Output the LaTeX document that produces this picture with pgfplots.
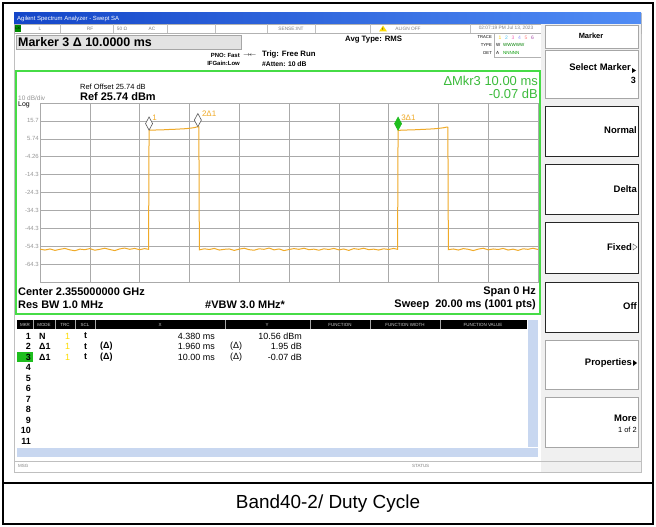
\documentclass[border=0pt]{standalone}
\usepackage{pgfplots}
\pgfplotsset{compat=1.18}
\usepackage{fontspec}
\setmainfont{Liberation Sans}

\definecolor{trc}{RGB}{240,170,40}
\definecolor{grn}{RGB}{70,220,70}
\definecolor{mkgreen}{RGB}{30,190,30}
\definecolor{tb1}{RGB}{20,70,200}
\definecolor{tb2}{RGB}{80,140,245}
\definecolor{gridc}{RGB}{170,170,170}
\definecolor{lbl}{RGB}{150,150,150}
\definecolor{scrl}{RGB}{200,215,240}
\newcommand{\fs}[1]{\fontsize{#1}{#1}\selectfont}

\pgfplotstableread{
t y
0.00 -55.9
0.20 -56.4
0.40 -55.8
0.60 -56.6
0.80 -56.0
1.00 -55.5
1.20 -56.3
1.40 -56.8
1.60 -55.9
1.80 -56.2
2.00 -55.6
2.20 -56.5
2.40 -56.0
2.60 -55.4
2.80 -56.1
3.00 -56.7
3.20 -55.8
3.40 -55.3
3.60 -56.0
3.80 -55.5
4.00 -56.2
4.20 -55.6
4.36 -56.0
4.38 10.56
4.60 10.62
4.80 10.75
5.00 10.80
5.20 10.95
5.40 11.05
5.60 11.20
5.80 11.35
6.00 11.60
6.20 12.00
6.34 12.51
6.38 12.40
6.40 -56.3
6.60 -55.7
6.80 -56.1
7.00 -55.5
7.20 -56.4
7.40 -56.0
7.60 -55.8
7.80 -56.6
8.00 -55.9
8.20 -55.4
8.40 -56.2
8.60 -56.5
8.80 -55.7
9.00 -56.0
9.20 -55.3
9.40 -56.3
9.60 -55.8
9.80 -56.7
10.00 -56.1
10.20 -55.6
10.40 -56.0
10.60 -55.4
10.80 -56.2
11.00 -55.9
11.20 -56.5
11.40 -55.7
11.60 -56.1
11.80 -55.5
12.00 -56.3
12.20 -55.8
12.40 -56.6
12.60 -55.6
12.80 -56.0
13.00 -55.4
13.20 -56.2
13.40 -55.9
13.60 -56.4
13.80 -55.7
14.00 -56.1
14.20 -55.5
14.36 -56.0
14.38 10.49
14.60 10.55
14.80 10.70
15.00 10.75
15.20 10.90
15.40 11.00
15.60 11.15
15.80 11.30
16.00 11.55
16.20 11.90
16.34 12.30
16.38 12.20
16.40 -56.2
16.60 -55.8
16.80 -56.4
17.00 -55.6
17.20 -56.0
17.40 -56.7
17.60 -55.9
17.80 -55.4
18.00 -56.3
18.20 -55.8
18.40 -56.1
18.60 -55.5
18.80 -56.4
19.00 -55.9
19.20 -56.6
19.40 -55.7
19.60 -56.0
19.80 -55.4
20.00 -56.1
}\tracedata

\begin{document}
\begin{tikzpicture}[x=1bp,y=-1bp]
\path[use as bounding box] (0,0) rectangle (656,527);
\fill[white] (0,0) rectangle (656,527);
% ---------- screenshot frame
\draw[gray!50] (14,13) rectangle (641,472);
% title bar
\shade[left color=tb1, right color=tb2] (14,13) rectangle (641,24);
\node[anchor=west, text=white, font=\fs{6}, inner sep=0] at (17,18.5) {Agilent Spectrum Analyzer - Swept SA};
% status row
\draw[gray!60, fill=white] (14,24) rectangle (641,33);
\fill[green!55!black] (15,25) rectangle (21,32);
\node[font=\fs{3.5}, text=black, inner sep=0] at (18,28.5) {LXI};
\foreach \x in {60,113,167,215,267,315,370,470,541} {\draw[gray!50] (\x,24) -- (\x,33);}
\foreach \x/\t in {40/L, 90/RF, 122/{50 Ω}, 152/AC, 291/SENSE:INT, 408/ALIGN OFF, 506/{02:07:19 PM Jul 13, 2023}}
  {\node[font=\fs{4.8}, text=gray, inner sep=0] at (\x,28.5) {\t};}
\fill[yellow!80!orange] (383,25.5) -- (387,31.5) -- (379,31.5) -- cycle;
\node[font=\bfseries\fs{3.5}, inner sep=0] at (383,29.5) {!};
% marker box
\draw[gray!70, fill=gray!22] (16,35) rectangle (241,49);
\node[anchor=west, font=\bfseries\fs{12.5}, inner sep=0] at (18,42) {Marker 3 Δ 10.0000 ms};
\node[anchor=east, font=\bfseries\fs{6}, inner sep=0] at (240,55) {PNO: Fast};
\node[anchor=west, font=\fs{6}, inner sep=0] at (243,55) {$\to\!\leftarrow$};
\node[anchor=east, font=\bfseries\fs{6}, inner sep=0] at (240,63) {IFGain:Low};
\node[anchor=west, font=\bfseries\fs{7.8}, inner sep=0] at (262,55) {Trig: Free Run};
\node[anchor=west, font=\bfseries\fs{6.8}, inner sep=0] at (262,64) {\#Atten: 10 dB};
\node[anchor=west, font=\bfseries\fs{7.8}, inner sep=0] at (345,40) {Avg Type: RMS};
\node[anchor=east, font=\fs{4.2}, inner sep=0] at (492,37) {TRACE};
\node[anchor=east, font=\fs{4.2}, inner sep=0] at (492,45) {TYPE};
\node[anchor=east, font=\fs{4.2}, inner sep=0] at (492,53) {DET};
\draw[gray!60, fill=white] (494,33.5) rectangle (541,57);
\foreach \i/\c in {1/yellow!70!orange,2/cyan!70,3/magenta!60,4/blue!40,5/red!50,6/violet!70}
  {\node[font=\fs{5}, text=\c, inner sep=0] at ({500+6.5*(\i-1)},37.5) {\i};}
\node[anchor=west, font=\fs{4.5}, inner sep=0] at (496,45) {W};
\node[anchor=west, font=\fs{4.5}, text=green!50!black, inner sep=0] at (503,45) {WWWWW};
\node[anchor=west, font=\fs{4.5}, inner sep=0] at (496,53) {A};
\node[anchor=west, font=\fs{4.5}, text=green!60!black, inner sep=0] at (503,53) {NNNNN};
% ---------- right panel
\fill[gray!12] (541,24) rectangle (641,472);
\draw[gray!70, fill=white] (545,25) rectangle (638,48);
\node[font=\bfseries\fs{7.5}, inner sep=0] at (591,36) {Marker};
\foreach \a/\b in {50/98, 340/389, 397/447} {\draw[gray!70, fill=white] (545,\a) rectangle (638,\b);}
\foreach \a/\b in {107/157,165/215,223/273,282/332} {\draw[black!85, line width=1bp, fill=white] (545,\a) rectangle (638,\b);}
\node[anchor=east, font=\bfseries\fs{9.5}, inner sep=0] at (631,67) {Select Marker};
\fill (632,68) -- (636,70.5) -- (632,73) -- cycle;
\node[anchor=east, font=\bfseries\fs{9}, inner sep=0] at (636,80) {3};
\node[anchor=east, font=\bfseries\fs{9.5}, inner sep=0] at (637,130) {Normal};
\node[anchor=east, font=\bfseries\fs{9.5}, inner sep=0] at (637,189) {Delta};
\node[anchor=east, font=\bfseries\fs{9.5}, inner sep=0] at (632,247) {Fixed};
\draw[black!70] (633,244) -- (637,247) -- (633,250) -- cycle;
\node[anchor=east, font=\bfseries\fs{9.5}, inner sep=0] at (637,306) {Off};
\node[anchor=east, font=\bfseries\fs{9.5}, inner sep=0] at (632,363) {Properties};
\fill (633,360) -- (637,363) -- (633,366) -- cycle;
\node[anchor=east, font=\bfseries\fs{9.5}, inner sep=0] at (637,418) {More};
\node[anchor=east, font=\fs{7.5}, inner sep=0] at (637,430) {1 of 2};
% ---------- plot area
\draw[grn, line width=2bp] (15.5,71) rectangle (540,314);
\node[anchor=west, font=\fs{7.5}, inner sep=0] at (80,87) {Ref Offset 25.74 dB};
\node[anchor=west, font=\bfseries\fs{11}, inner sep=0] at (80,97) {Ref 25.74 dBm};
\node[anchor=west, font=\fs{6.5}, text=lbl, inner sep=0] at (18,98.5) {10 dB/div};
\node[anchor=west, font=\fs{7}, inner sep=0] at (18,105) {Log};
\node[anchor=east, font=\fs{13}, text=grn!85!black, inner sep=0] at (538,81) {ΔMkr3 10.00 ms};
\node[anchor=east, font=\fs{13}, text=grn!85!black, inner sep=0] at (538,94) {-0.07 dB};
\node[anchor=west, font=\bfseries\fs{11}, inner sep=0] at (18,292) {Center 2.355000000 GHz};
\node[anchor=west, font=\bfseries\fs{11}, inner sep=0] at (18,305) {Res BW 1.0 MHz};
\node[anchor=west, font=\bfseries\fs{11}, inner sep=0] at (205,305) {\#VBW 3.0 MHz*};
\node[anchor=east, font=\bfseries\fs{11}, inner sep=0] at (536,292) {Span 0 Hz};
\node[anchor=east, font=\bfseries\fs{11}, inner sep=0] at (536,305) {Sweep\ \ 20.00 ms (1001 pts)};

\begin{scope}[x=1cm,y=1cm]
\begin{axis}[at={(40bp,-103bp)}, anchor=north west, width=498bp, height=179bp, scale only axis,
  xmin=0, xmax=20, ymin=-74.26, ymax=25.74,
  xtick={0,2,...,20}, xticklabels={},
  ytick={15.74,5.74,-4.26,-14.26,-24.26,-34.26,-44.26,-54.26,-64.26},
  yticklabels={15.7,5.74,-4.26,-14.3,-24.3,-34.3,-44.3,-54.3,-64.3},
  yticklabel style={font=\fs{6}, text=lbl, inner sep=1bp},
  grid=major, grid style={gridc, line width=0.6bp},
  axis line style={gridc, line width=0.8bp},
  major tick length=0pt, clip=false]
\addplot[trc, line width=1bp] table[x=t, y=y] {\tracedata};
\addplot[only marks, mark=diamond*, mark size=4.7bp,
  mark options={fill=white, draw=gray!70!black, line width=0.6bp, yshift=6.6bp, yscale=1.4}]
  coordinates {(4.38,10.56) (6.34,12.51)};
\addplot[only marks, mark=diamond*, mark size=4.7bp,
  mark options={fill=mkgreen, draw=mkgreen, line width=0.6bp, yshift=6.6bp, yscale=1.4}]
  coordinates {(14.38,10.49)};
\node[anchor=base west, font=\fs{8}, text=trc, inner sep=0, yshift=10bp] at (axis cs:4.5,10.56) {1};
\node[anchor=base west, font=\fs{8}, text=trc, inner sep=0, yshift=10bp] at (axis cs:6.5,12.51) {2Δ1};
\node[anchor=base west, font=\fs{8}, text=trc, inner sep=0, yshift=10bp] at (axis cs:14.5,10.49) {3Δ1};
\end{axis}
\end{scope}

% ---------- marker table
\fill[white] (15,318) rectangle (540,459);
\fill[black] (17,320) rectangle (527,329);
\foreach \x in {33,55,75,95,225,310,370,440} {\draw[gray!70] (\x,320) -- (\x,329);}
\foreach \x/\t in {25/MKR, 44/MODE, 65/TRC, 85/SCL, 160/X, 267/Y, 340/FUNCTION, 405/FUNCTION WIDTH, 483/FUNCTION VALUE}
  {\node[font=\fs{4.5}, text=gray!40, inner sep=0] at (\x,324.5) {\t};}
\fill[scrl] (528,320) rectangle (538,447);
\fill[scrl] (17,448) rectangle (538,457);
\fill[mkgreen] (17,352) rectangle (33,362);
\foreach \i in {1,...,11} {\node[anchor=east, font=\bfseries\fs{9}, inner sep=0] at (31,{336+(\i-1)*10.5}) {\i};}
\foreach \i/\m in {1/N, 2/Δ1, 3/Δ1} {
  \node[anchor=west, font=\bfseries\fs{9}, inner sep=0] at (39,{336+(\i-1)*10.5}) {\m};
  \node[anchor=west, font=\fs{9}, text=yellow!80!orange, inner sep=0] at (65,{336+(\i-1)*10.5}) {1};
  \node[anchor=west, font=\bfseries\fs{9}, inner sep=0] at (84,{336+(\i-1)*10.5}) {t};}
\node[anchor=west, font=\bfseries\fs{9}, inner sep=0] at (100,346.5) {(Δ)};
\node[anchor=west, font=\bfseries\fs{9}, inner sep=0] at (100,357) {(Δ)};
\node[anchor=east, font=\fs{9}, inner sep=0] at (215,336) {4.380 ms};
\node[anchor=east, font=\fs{9}, inner sep=0] at (215,346.5) {1.960 ms};
\node[anchor=east, font=\fs{9}, inner sep=0] at (215,357) {10.00 ms};
\node[anchor=west, font=\fs{9}, inner sep=0] at (230,346.5) {(Δ)};
\node[anchor=west, font=\fs{9}, inner sep=0] at (230,357) {(Δ)};
\node[anchor=east, font=\fs{9}, inner sep=0] at (302,336) {10.56 dBm};
\node[anchor=east, font=\fs{9}, inner sep=0] at (302,346.5) {1.95 dB};
\node[anchor=east, font=\fs{9}, inner sep=0] at (302,357) {-0.07 dB};
% bottom status
\draw[gray!50] (14,461) -- (641,461);
\node[anchor=west, font=\fs{4.5}, text=gray, inner sep=0] at (18,466) {MSG};
\node[anchor=west, font=\fs{4.5}, text=gray, inner sep=0] at (412,466) {STATUS};
% ---------- outer frame and caption
\draw[black, line width=2bp] (3,3) rectangle (653,524);
\draw[black, line width=1.5bp] (3,483) -- (653,483);
\node[font=\fs{19}, inner sep=0] at (328,504) {Band40-2/ Duty Cycle};
\end{tikzpicture}
\end{document}
